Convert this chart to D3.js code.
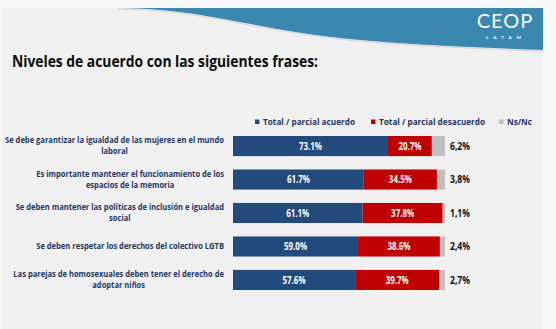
<!DOCTYPE html>
<meta charset="utf-8">
<script src="https://d3js.org/d3.v7.min.js"></script>
<html>
<head>
<style>
body { margin: 0; background: #f9f9f9; }
svg text { font-family: "Open Sans", sans-serif; font-weight: bold; }
</style>
</head>
<body>
<div id="chart"></div>
<script>

// survey results, one entry per statement
var statements = [
  ["Se debe garantizar la igualdad de las mujeres en el mundo", "laboral"],
  ["Es importante mantener el funcionamiento de los", "espacios de la memoria"],
  ["Se deben mantener las políticas de inclusión e igualdad", "social"],
  ["Se deben respetar los derechos del colectivo LGTB"],
  ["Las parejas de homosexuales deben tener el derecho de", "adoptar niños"]
];
var acuerdo    = [73.1, 61.7, 61.1, 59.0, 57.6];
var desacuerdo = [20.7, 34.5, 37.8, 38.6, 39.7];
var nsnc       = [6.2, 3.8, 1.1, 2.4, 2.7];
var series = ["Total / parcial acuerdo", "Total / parcial desacuerdo", "Ns/Nc"];
var colors = ["#234a7d", "#c00000", "#bfbfbf"];

var width = 556, height = 329;

// narrow a text so it behaves like the slide's condensed face
function squeeze(sel, k) {
  sel.each(function() {
    var w = this.getComputedTextLength();
    d3.select(this).attr("textLength", w * k).attr("lengthAdjust", "spacingAndGlyphs");
  });
}

var svg = d3.select("#chart")
  .append("svg")
    .attr("width", width)
    .attr("height", height);

// slide background
svg.append("rect")
  .attr("x", 2).attr("y", 8)
  .attr("width", 541).attr("height", height - 8)
  .attr("fill", "#f0f0f0");

// blue wave in the header
svg.append("path")
  .attr("d", "M118,8 C210,9 250,30 360,40 C430,46 490,48 543,50 L543,8 Z")
  .attr("fill", "#3a88b0");
svg.append("path")
  .attr("d", "M118,8 C210,9 250,30 360,40 C430,46 490,48 543,50")
  .attr("fill", "none")
  .attr("stroke", "#d8d8d8")
  .attr("stroke-width", 1.2)
  .attr("transform", "translate(0,1.2)");

// logo
svg.append("text")
  .attr("x", 505).attr("y", 28)
  .attr("text-anchor", "middle")
  .attr("fill", "white")
  .style("font-family", "Lato, sans-serif")
  .style("font-weight", "normal")
  .style("font-size", "20px")
  .style("letter-spacing", "1px")
  .text("CEOP");
svg.append("text")
  .attr("x", 506).attr("y", 38.5)
  .attr("text-anchor", "middle")
  .attr("fill", "white")
  .style("font-family", "Lato, sans-serif")
  .style("font-size", "4.5px")
  .style("letter-spacing", "5px")
  .text("LATAM");

// title
var title = svg.append("text")
  .attr("x", 12).attr("y", 67)
  .attr("fill", "#0d0d0d")
  .style("font-size", "16px")
  .text("Niveles de acuerdo con las siguientes frases:");
title.attr("textLength", 306).attr("lengthAdjust", "spacingAndGlyphs");

// scales
var x = d3.scaleLinear()
  .domain([0, 100])
  .range([233, 445]);

var y = d3.scaleBand()
  .domain(d3.range(statements.length))
  .range([136, 290])
  .paddingInner(0.4)
  .paddingOuter(0);

// stacked segments
var rows = statements.map(function(s, i) {
  return [acuerdo[i], desacuerdo[i], nsnc[i]];
});

var valueLabels = [], sideLabels = [];
rows.forEach(function(vals, i) {
  var start = 0;
  vals.forEach(function(v, k) {
    svg.append("rect")
      .attr("x", x(start))
      .attr("y", y(i))
      .attr("width", x(start + v) - x(start))
      .attr("height", y.bandwidth())
      .attr("fill", colors[k]);
    if (k < 2) {
      valueLabels.push(svg.append("text")
        .attr("x", x(start + v / 2))
        .attr("y", y(i) + y.bandwidth() / 2)
        .attr("dy", "0.36em")
        .attr("text-anchor", "middle")
        .attr("fill", "white")
        .style("font-size", "10px")
        .text(v.toFixed(1) + "%").node());
    }
    start += v;
  });

  // ns/nc value outside the bar
  sideLabels.push(svg.append("text")
    .attr("x", 450)
    .attr("y", y(i) + y.bandwidth() / 2)
    .attr("dy", "0.36em")
    .attr("fill", "#111")
    .style("font-size", "10.5px")
    .text(nsnc[i].toFixed(1).replace(".", ",") + "%").node());
});
var vk = 23 / valueLabels[0].getComputedTextLength();
squeeze(d3.selectAll(valueLabels), vk);
var sk = 20 / sideLabels[0].getComputedTextLength();
squeeze(d3.selectAll(sideLabels), sk);

// statement labels, each block centred on its own lines and right aligned at 224
var blocks = statements.map(function(lines, i) {
  var cy = y(i) + y.bandwidth() / 2;
  var lh = 11;
  return lines.map(function(line, j) {
    return svg.append("text")
      .attr("y", cy + (j - (lines.length - 1) / 2) * lh)
      .attr("dy", "0.36em")
      .attr("text-anchor", "middle")
      .attr("fill", "#1f3864")
      .style("font-size", "8px")
      .text(line);
  });
});
var lk = 219 / blocks[0][0].node().getComputedTextLength();
blocks.forEach(function(texts) {
  var maxW = d3.max(texts, function(t) { return t.node().getComputedTextLength(); }) * lk;
  texts.forEach(function(t) {
    squeeze(t, lk);
    t.attr("x", 224 - maxW / 2);
  });
});

// legend
var legendX = [255, 371, 499];
var legendTexts = series.map(function(s, k) {
  svg.append("rect")
    .attr("x", legendX[k])
    .attr("y", 119.5)
    .attr("width", 4.5)
    .attr("height", 4.5)
    .attr("fill", colors[k]);
  return svg.append("text")
    .attr("x", legendX[k] + 8)
    .attr("y", 122)
    .attr("dy", "0.36em")
    .attr("fill", "#1f3864")
    .style("font-size", "9.5px")
    .text(s).node();
});
var gk = 92 / legendTexts[0].getComputedTextLength();
squeeze(d3.selectAll(legendTexts), gk);

</script>
</body>
</html>
